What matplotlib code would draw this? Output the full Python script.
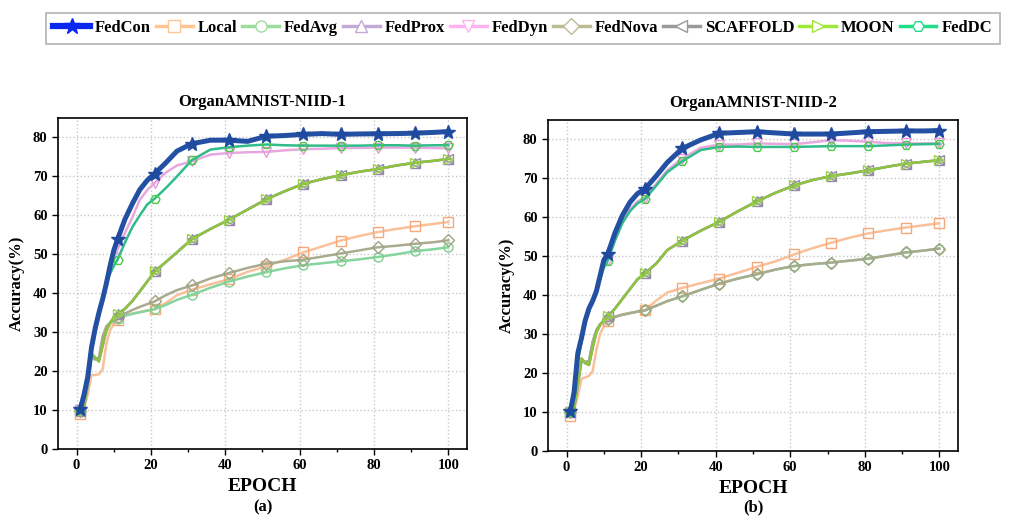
import matplotlib
matplotlib.use("Agg")
import matplotlib.pyplot as plt
from matplotlib.lines import Line2D

plt.rcParams['font.family'] = ['Liberation Serif', 'DejaVu Serif']
plt.rcParams['font.weight'] = 'bold'

epochs = [1, 2, 3, 4, 5, 6, 7, 8, 9, 10, 11, 13, 15, 17, 19, 21, 24, 27, 31, 36, 41, 46,
          51, 56, 61, 66, 71, 76, 81, 86, 91, 96, 100]
marker_epochs = [1, 11, 21, 31, 41, 51, 61, 71, 81, 91, 100]

methods = ["FedCon", "Local", "FedAvg", "FedProx", "FedDyn", "FedNova", "SCAFFOLD", "MOON", "FedDC"]

# ---------------- panel (a): OrganAMNIST-NIID-1 ----------------
a_fedcon = [10.2, 14, 18.5, 26, 31, 35, 38.5, 42.5, 47, 51, 53.8, 59, 63, 66.6, 69, 70.7, 73.5, 76.5,
            78.4, 79.3, 79.3, 79.0, 80.3, 80.5, 80.8, 81.0, 80.8, 80.9, 80.95, 81.0, 81.1, 81.3, 81.5]
a_local = [9.0, 10.5, 14, 19.0, 19.0, 19.2, 20.5, 27, 30.5, 32.2, 33.2, 34.3, 34.8, 35.2, 35.6, 35.9,
           37.5, 39.5, 40.9, 42.3, 43.6, 45.5, 46.9, 48.6, 50.5, 52, 53.5, 54.7, 55.7, 56.5, 57.2, 57.8, 58.3]
a_fedavg = [9.8, 11, 16, 23.5, 23, 23, 28, 31, 32.3, 33, 33.5, 34.2, 34.7, 35.1, 35.5, 35.9, 37, 38.3,
            39.6, 41.4, 43.0, 44.3, 45.4, 46.4, 47.2, 47.7, 48.2, 48.7, 49.3, 50.0, 50.8, 51.3, 51.8]
a_fedprox = [9.8, 11, 17, 24.4, 23.4, 22.6, 26.5, 30.4, 32.3, 33.8, 34.6, 36, 38, 40.5, 43, 45.6, 48,
             50.5, 53.9, 56.5, 58.9, 61.5, 64.1, 66.2, 68.1, 69.3, 70.3, 71.2, 71.9, 72.8, 73.5, 74.0, 74.5]
a_feddyn = [10, 13.5, 18, 25, 30, 34, 38, 42, 45.5, 49, 51.2, 55.5, 59.5, 64, 66.5, 68.3, 71, 72.8,
            73.9, 75.6, 76.0, 76.2, 76.3, 76.7, 77.0, 77.1, 77.3, 77.3, 77.4, 77.4, 77.4, 77.3, 77.2]
a_fednova = [9.8, 11, 16, 24, 23, 23.5, 29, 31.5, 32.5, 33.3, 33.8, 34.8, 35.7, 36.5, 37.2, 37.9,
             39.5, 40.8, 42.0, 43.8, 45.2, 46.5, 47.6, 48.2, 48.6, 49.4, 50.2, 51.0, 51.8, 52.2, 52.7, 53.1, 53.6]
a_scaffold = [9.8, 11, 17, 24.5, 23.5, 22.5, 26.6, 30.5, 32.3, 33.8, 34.6, 36, 38, 40.5, 43, 45.6, 48,
              50.5, 53.9, 56.5, 58.9, 61.5, 64.1, 66.2, 68.1, 69.3, 70.3, 71.2, 71.9, 72.8, 73.5, 74.0, 74.5]
a_moon = [9.8, 11, 17, 24.6, 23.5, 22.5, 26.5, 30.5, 32.3, 33.8, 34.6, 36, 38, 40.5, 43, 45.6, 48,
          50.5, 53.9, 56.5, 58.9, 61.5, 64.1, 66.2, 68.1, 69.3, 70.3, 71.2, 71.9, 72.8, 73.5, 74.0, 74.5]
a_feddc = [10, 13, 19, 25, 30, 34, 39, 42.5, 45, 47, 48.6, 53, 57, 60, 62.8, 64.3, 67, 70, 74.2,
           76.9, 77.5, 77.9, 78.2, 78.0, 77.9, 77.9, 77.9, 77.9, 78.0, 78.0, 77.9, 78.0, 78.0]

# ---------------- panel (b): OrganAMNIST-NIID-2 ----------------
b_fedcon = [10.1, 15, 25, 29, 33.5, 36.5, 38.5, 41, 45, 49, 50.4, 56, 60.5, 63.8, 66, 67.2, 70.5, 74,
            77.6, 79.8, 81.5, 81.7, 81.9, 81.6, 81.3, 81.3, 81.3, 81.6, 81.9, 82.0, 82.1, 82.1, 82.2]
b_local = [9.0, 10.5, 14, 18.5, 18.8, 19.2, 20.5, 26, 30, 32, 33.2, 34.3, 35.0, 35.4, 35.7, 36.0, 38.5,
           40.6, 41.8, 43.0, 44.2, 45.7, 47.2, 48.6, 50.4, 52, 53.4, 54.7, 55.8, 56.6, 57.3, 57.9, 58.4]
b_fedavg = [9.8, 11, 17, 23, 22.8, 23, 28, 31, 32.5, 33.3, 33.8, 34.4, 34.9, 35.3, 35.7, 36.0, 37.2,
            38.4, 39.6, 41.3, 42.9, 44.2, 45.3, 46.5, 47.4, 47.9, 48.3, 48.8, 49.3, 50.1, 50.9, 51.4, 51.9]
b_fedprox = [9.8, 11, 17, 23.6, 22.5, 22.1, 26.5, 30.4, 32.3, 33.5, 34.5, 36.5, 39, 41.5, 44, 45.5, 48,
             51.5, 53.9, 56.5, 58.8, 61.5, 64.0, 66.2, 68.1, 69.5, 70.5, 71.2, 72.0, 72.9, 73.7, 74.2, 74.6]
b_feddyn = [10, 14, 23, 28, 33, 36, 38.5, 41, 44.5, 47.5, 49, 54.5, 59, 62, 64, 65, 68.5, 72, 75, 77.8,
            78.6, 78.6, 78.9, 78.8, 78.7, 79.2, 79.7, 79.6, 79.3, 79.0, 78.9, 78.9, 78.9]
b_fednova = [9.8, 11, 17, 23, 22.8, 23, 28, 31, 32.5, 33.3, 33.8, 34.4, 34.9, 35.3, 35.7, 36.0, 37.2,
             38.4, 39.6, 41.3, 42.9, 44.2, 45.3, 46.5, 47.4, 47.9, 48.3, 48.8, 49.3, 50.1, 50.9, 51.4, 51.9]
b_scaffold = [9.8, 11, 17, 23.6, 22.5, 22.0, 26.6, 30.5, 32.3, 33.5, 34.5, 36.5, 39, 41.5, 44, 45.5, 48,
              51.5, 53.9, 56.5, 58.8, 61.5, 64.0, 66.2, 68.1, 69.5, 70.5, 71.2, 72.0, 72.9, 73.7, 74.2, 74.6]
b_moon = [9.8, 11, 17, 23.7, 22.5, 22.0, 26.5, 30.5, 32.3, 33.5, 34.5, 36.5, 39, 41.5, 44, 45.5, 48,
          51.5, 53.9, 56.5, 58.8, 61.5, 64.0, 66.2, 68.1, 69.5, 70.5, 71.2, 72.0, 72.9, 73.7, 74.2, 74.6]
b_feddc = [10, 14, 23, 28, 33, 36, 38.5, 41, 44, 47, 48.7, 54, 58.5, 61.5, 63.5, 64.6, 68, 71.5, 74.3,
           77.2, 78.0, 78.1, 78.0, 78.0, 78.0, 78.1, 78.2, 78.2, 78.2, 78.4, 78.6, 78.7, 78.8]

titles = ["OrganAMNIST-NIID-1", "OrganAMNIST-NIID-2"]
sublabels = ["(a)", "(b)"]
y_ticks = [0, 10, 20, 30, 40, 50, 60, 70, 80]
x_ticks = [0, 20, 40, 60, 80, 100]

panels = [
    dict(zip(methods, [a_fedcon, a_local, a_fedavg, a_fedprox, a_feddyn, a_fednova, a_scaffold, a_moon, a_feddc])),
    dict(zip(methods, [b_fedcon, b_local, b_fedavg, b_fedprox, b_feddyn, b_fednova, b_scaffold, b_moon, b_feddc])),
]

# style: (line colour, marker, marker colour, linewidth, zorder, legend colour)
styles = {
    "Local":    ("#f9c09a", "s", "#f7a878", 1.8, 3, "#ffc593"),
    "FedAvg":   ("#86d49e", "o", "#7ccf8f", 1.8, 3, "#9edc9e"),
    "FedProx":  ("#c4a6d6", "^", "#9c86b6", 1.8, 4, "#c3aad6"),
    "FedDyn":   ("#e6a8de", "v", "#e49ad8", 1.8, 4, "#ffb3f3"),
    "FedNova":  ("#a9ab8f", "D", "#a0a482", 1.8, 5, "#bcbc94"),
    "SCAFFOLD": ("#9a9a9a", "<", "#8f8f9f", 1.8, 5, "#9a9a9a"),
    "MOON":     ("#8cc43f", ">", "#9ad34a", 1.8, 6, "#9fe83a"),
    "FedDC":    ("#30bb8a", "H", "#49c84a", 1.8, 7, "#20dd88"),
    "FedCon":   ("#2350a2", "*", "#1f4aa0", 3.6, 9, "#0a28f0"),
}
draw_order = ["Local", "FedAvg", "FedProx", "FedDyn", "FedNova", "SCAFFOLD", "MOON", "FedDC", "FedCon"]
mark_idx = [epochs.index(e) for e in marker_epochs]

fig = plt.figure(figsize=(10.09, 5.18), dpi=100)
axes = [fig.add_axes([0.0575, 0.1332, 0.4053, 0.639]),
        fig.add_axes([0.5431, 0.1300, 0.4063, 0.639])]

for ax, data, title, sub in zip(axes, panels, titles, sublabels):
    for m in draw_order:
        lc, mk, mc, lw, zo, _ = styles[m]
        if m == "FedCon":
            ax.plot(epochs, data[m], color=lc, lw=lw, marker=mk, markersize=10,
                    markerfacecolor=mc, markeredgecolor=mc, markevery=mark_idx, zorder=zo)
        else:
            ax.plot(epochs, data[m], color=lc, lw=lw, marker=mk, markersize=6.5,
                    markerfacecolor='none', markeredgecolor=mc, markeredgewidth=1.0,
                    markevery=mark_idx, zorder=zo)
    ax.set_xlim(-5, 105)
    ax.set_ylim(0, 85)
    ax.set_xticks(x_ticks)
    ax.set_xticks([10, 30, 50, 70, 90], minor=True)
    ax.set_yticks(y_ticks)
    ax.tick_params(axis='both', which='major', direction='out', length=4, width=1.0, labelsize=10.5)
    ax.tick_params(axis='x', which='minor', direction='out', length=2.5, width=1.0)
    for lab in ax.get_xticklabels() + ax.get_yticklabels():
        lab.set_fontweight('bold')
    ax.grid(True, which='major', color='#c8c8c8', linestyle=':', linewidth=1.0)
    for sp in ax.spines.values():
        sp.set_linewidth(1.2)
    ax.set_title(title, fontsize=12, fontweight='bold', pad=9)
    ax.set_ylabel("Accuracy(%)", fontsize=12, fontweight='bold', labelpad=6)
    ax.set_xlabel("EPOCH", fontsize=14, fontweight='bold', labelpad=4)
    bb = ax.get_position()
    fig.text((bb.x0 + bb.x1) / 2, 1 - 507 / 518, sub, ha='center', va='center',
             fontsize=12, fontweight='bold')

handles = []
for m in methods:
    lc, mk, mc, lw, zo, legc = styles[m]
    if m == "FedCon":
        h = Line2D([], [], color=legc, lw=4.5, marker=mk, markersize=12,
                   markerfacecolor=legc, markeredgecolor=legc)
    else:
        h = Line2D([], [], color=legc, lw=2.5, marker=mk, markersize=8,
                   markerfacecolor='white', markeredgecolor=legc, markeredgewidth=1.0)
    handles.append(h)

leg = fig.legend(handles, methods, loc='upper center', bbox_to_anchor=(0.518, 0.982), ncol=9,
                 frameon=True, fancybox=False, edgecolor='#a0a0a0', handlelength=2.2,
                 handletextpad=0.3, columnspacing=0.3, borderpad=0.45, borderaxespad=0.2,
                 prop={'weight': 'bold', 'size': 12})
leg.get_frame().set_linewidth(1.2)

fig.savefig("out.png", dpi=100)
